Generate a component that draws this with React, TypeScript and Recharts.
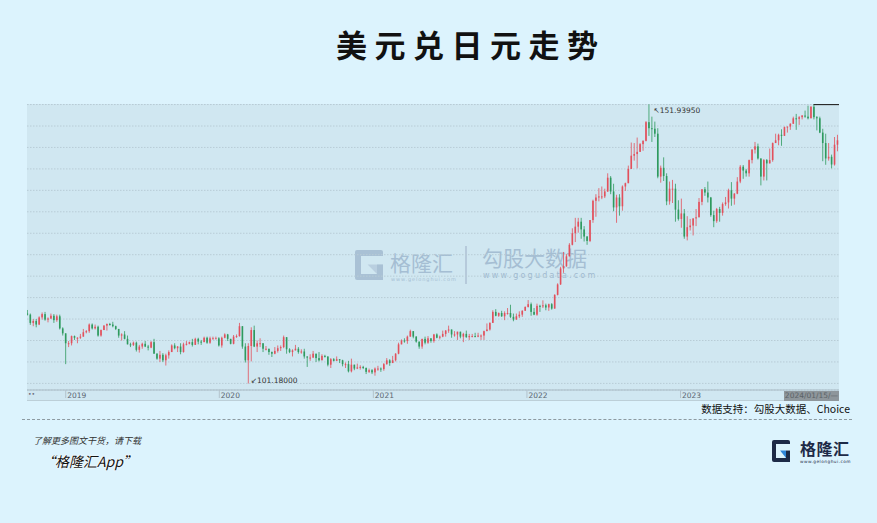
import React from 'react';
import { ComposedChart, Bar, XAxis, YAxis, CartesianGrid, ReferenceDot, ReferenceLine } from 'recharts';

// USD/JPY weekly candles, each week = [high, low, close]; open = previous week's close
const firstOpen = 113.9;
const firstWeekMid = Date.UTC(2018, 9, 3); // week of 2018-10-01

const w2018: number[][] = [
  [114.55, 113.55, 113.7], [113.9, 111.85, 112.2], [112.9, 111.6, 112.55], [112.9, 111.4, 111.9], [113.4, 111.8, 113.2],
  [114.1, 112.8, 113.8], [114.2, 112.6, 112.8], [113.2, 112.3, 113.0], [113.9, 112.9, 113.5], [113.8, 112.2, 112.7],
  [113.7, 112.4, 113.4], [113.7, 111.0, 111.2], [111.4, 109.9, 110.3], [110.0, 104.7, 108.5],
];
const w2019: number[][] = [
  [108.9, 107.8, 108.5], [109.9, 108.1, 109.8], [109.9, 109.1, 109.5], [109.6, 108.5, 109.5],
  [110.2, 109.3, 109.7], [111.1, 109.9, 110.5], [110.9, 110.3, 110.7], [112.1, 110.4, 111.9],
  [112.1, 111.0, 111.2], [111.9, 111.0, 111.5], [111.7, 109.7, 109.9], [111.0, 109.7, 110.9],
  [111.8, 110.9, 111.7], [112.1, 110.8, 112.0], [112.2, 111.7, 111.9], [112.4, 111.4, 111.6], [111.7, 110.9, 111.1],
  [111.1, 109.5, 109.9], [110.3, 109.0, 110.1], [110.7, 109.2, 109.3], [109.9, 108.3, 108.3],
  [108.6, 107.8, 108.2], [108.8, 108.0, 108.6], [108.8, 107.0, 107.3], [108.2, 106.8, 107.9],
  [108.6, 107.5, 108.4], [108.9, 107.8, 107.9], [108.2, 107.2, 107.7], [108.9, 107.6, 108.7], [109.3, 106.6, 106.6],
  [106.7, 105.5, 105.7], [107.1, 105.1, 106.4], [106.7, 105.1, 105.4], [106.6, 104.45, 106.3],
  [107.2, 105.7, 106.9], [108.3, 106.9, 108.1], [108.5, 107.4, 107.6], [108.0, 106.9, 107.9], [108.5, 106.5, 106.9],
  [108.6, 106.8, 108.3], [108.9, 108.1, 108.4], [108.8, 108.3, 108.7], [109.3, 107.9, 108.2],
  [109.5, 108.2, 109.3], [109.5, 108.3, 108.8], [109.1, 108.2, 108.7], [109.7, 108.8, 109.5],
  [109.7, 108.4, 108.6], [109.7, 108.4, 109.4], [109.7, 109.2, 109.4], [109.7, 109.3, 109.4], [109.6, 107.9, 108.1],
];
const w2020: number[][] = [
  [109.7, 107.7, 109.5], [110.3, 109.4, 110.1], [110.2, 108.9, 109.3], [109.3, 108.3, 108.4],
  [110.0, 108.3, 109.7], [110.1, 109.5, 109.8], [112.2, 109.7, 111.6], [111.6, 107.5, 107.9],
  [108.5, 105.0, 105.4], [108.5, 101.18, 108.0], [111.4, 105.2, 110.9], [111.7, 107.8, 107.9], [109.0, 106.9, 108.5],
  [109.4, 107.8, 108.5], [108.1, 106.9, 107.5], [108.0, 107.2, 107.5], [107.5, 106.4, 106.9],
  [107.0, 106.0, 106.6], [107.8, 106.5, 107.1], [108.1, 106.8, 107.6], [108.1, 107.1, 107.8],
  [109.9, 107.6, 109.6], [109.6, 106.6, 107.4], [107.6, 106.7, 106.9], [107.4, 106.1, 107.2], [108.2, 107.2, 107.5],
  [107.8, 106.6, 106.9], [107.4, 106.6, 107.0], [107.5, 105.7, 106.1], [106.1, 104.2, 105.9],
  [106.5, 105.3, 105.9], [107.1, 105.8, 106.6], [106.0, 105.1, 105.8], [106.9, 105.2, 105.4], [106.5, 105.6, 106.2],
  [106.4, 105.9, 106.1], [106.0, 104.3, 104.6], [105.8, 104.0, 105.6], [105.8, 105.2, 105.3],
  [106.1, 105.3, 105.6], [105.6, 104.9, 105.4], [105.5, 104.3, 104.7], [105.0, 104.0, 104.7],
  [105.3, 103.2, 103.4], [105.7, 103.2, 104.6], [104.6, 103.6, 103.9], [104.8, 103.8, 104.1], [104.5, 103.7, 104.2],
  [104.4, 103.8, 104.0], [104.1, 102.9, 103.3], [103.9, 103.1, 103.6], [103.8, 102.9, 103.2],
];
const w2021: number[][] = [
  [104.1, 102.6, 103.9], [104.4, 103.5, 103.9], [104.1, 103.3, 103.8], [104.9, 103.5, 104.7],
  [105.8, 104.6, 105.4], [105.6, 104.4, 104.9], [106.2, 104.9, 105.4], [106.7, 105.2, 106.6],
  [108.6, 106.5, 108.3], [109.2, 108.3, 109.0], [109.4, 108.6, 108.9], [109.9, 108.4, 109.7], [110.97, 109.7, 110.7],
  [110.5, 109.4, 109.7], [109.8, 108.6, 108.8], [108.8, 107.5, 107.9], [109.3, 107.5, 109.3],
  [109.7, 108.3, 108.6], [109.8, 108.4, 109.4], [109.4, 108.6, 108.9], [110.2, 108.6, 110.1], [110.3, 109.4, 109.5],
  [109.9, 109.2, 109.7], [110.8, 109.6, 110.2], [110.9, 109.7, 110.8], [111.7, 110.4, 111.0],
  [111.0, 109.5, 110.1], [110.7, 109.7, 110.1], [110.6, 109.1, 110.6], [110.6, 109.4, 109.7],
  [110.4, 108.7, 110.2], [110.8, 109.5, 109.6], [110.2, 109.1, 109.8], [110.2, 109.6, 109.8], [110.4, 109.6, 109.7],
  [110.4, 109.6, 109.9], [110.1, 109.1, 109.9], [110.8, 109.1, 110.7], [112.1, 110.8, 111.0],
  [112.3, 110.8, 112.2], [114.5, 112.2, 114.2], [114.7, 113.4, 113.5], [114.1, 113.3, 114.0],
  [114.4, 113.3, 113.4], [114.3, 112.7, 114.0], [114.9, 113.7, 114.0], [115.5, 113.1, 113.3], [113.9, 112.5, 112.8],
  [113.9, 113.0, 113.4], [114.3, 113.1, 113.7], [114.5, 113.3, 114.4], [115.2, 114.5, 115.1],
];
const w2022: number[][] = [
  [116.35, 115.0, 115.6], [115.9, 113.5, 114.2], [114.9, 113.6, 113.7], [115.7, 113.5, 115.3], [115.5, 114.2, 115.2],
  [116.3, 114.9, 115.4], [115.7, 114.5, 115.0], [115.7, 114.4, 115.6], [115.8, 114.6, 114.8],
  [117.4, 114.8, 117.3], [119.4, 117.2, 119.2], [122.4, 119.1, 122.1], [125.1, 121.3, 122.5],
  [124.7, 122.4, 124.3], [126.7, 124.3, 126.4], [129.4, 126.3, 128.5], [131.3, 126.9, 129.7],
  [131.3, 128.6, 130.6], [131.3, 127.5, 129.2], [129.8, 127.0, 127.9], [128.0, 126.4, 127.1], [130.9, 126.9, 130.9],
  [134.6, 130.4, 134.4], [135.6, 131.5, 135.0], [136.7, 134.3, 135.2], [137.0, 134.7, 135.2],
  [136.6, 134.9, 136.1], [139.4, 136.0, 138.6], [138.9, 135.6, 136.1], [137.5, 132.5, 133.2],
  [135.5, 130.4, 135.0], [135.6, 131.7, 133.4], [137.2, 132.6, 137.0], [137.7, 136.2, 137.6], [140.8, 137.7, 140.2],
  [144.99, 140.2, 142.6], [144.9, 141.7, 142.9], [145.9, 140.3, 143.3], [144.9, 143.5, 144.7],
  [145.4, 143.5, 145.3], [148.9, 145.2, 148.7], [151.9395, 146.2, 147.6], [149.7, 145.1, 147.5], [148.8, 146.0, 146.6],
  [147.6, 138.5, 138.8], [140.8, 137.7, 140.4], [142.3, 138.0, 138.9], [139.4, 133.6, 134.3],
  [137.9, 133.7, 136.6], [138.2, 134.0, 136.6], [137.5, 130.6, 132.8], [134.5, 130.8, 131.1],
];
const w2023: number[][] = [
  [134.8, 129.5, 132.1], [132.9, 127.5, 127.9], [131.6, 127.2, 129.6], [131.1, 129.0, 129.9], [131.2, 128.1, 131.2],
  [132.9, 129.8, 131.4], [134.9, 131.5, 134.2], [136.5, 133.6, 136.5], [136.9, 135.3, 135.9],
  [137.9, 134.1, 135.0], [135.1, 131.5, 131.8], [132.6, 129.6, 130.7], [133.1, 130.4, 132.9],
  [133.3, 130.6, 132.2], [134.1, 131.7, 133.8], [135.1, 133.5, 134.1], [136.6, 133.0, 136.3],
  [137.8, 133.5, 134.8], [135.8, 133.7, 135.7], [138.7, 135.6, 137.9], [140.9, 137.6, 140.6], [140.9, 138.4, 139.9],
  [140.2, 138.8, 139.4], [141.9, 138.8, 141.8], [143.8, 141.2, 143.7], [145.1, 143.0, 144.3],
  [144.8, 141.9, 142.1], [142.1, 137.2, 138.8], [142.0, 138.1, 141.8], [142.0, 138.1, 141.2], [143.9, 141.5, 141.8],
  [145.0, 141.5, 144.9], [146.6, 144.9, 145.4], [146.6, 144.5, 146.4], [147.4, 144.4, 146.2],
  [147.9, 146.3, 147.8], [147.9, 146.8, 147.9], [148.5, 147.3, 148.4], [149.7, 148.5, 149.4],
  [150.2, 147.3, 149.3], [149.8, 148.2, 149.6], [150.0, 149.2, 149.9], [150.8, 149.5, 149.7], [151.7, 149.2, 149.4],
  [151.6, 149.8, 151.5], [151.91, 149.2, 149.6], [149.8, 147.2, 149.4], [149.7, 146.7, 146.8],
  [147.5, 141.6, 144.9], [146.6, 140.95, 142.1], [144.9, 141.7, 142.4], [142.8, 140.3, 141.0],
];
const w2024: number[][] = [
  [146.0, 140.8, 144.6], [146.4, 143.4, 145.4],
];

const yearTicks = [2019, 2020, 2021, 2022, 2023];
const gridValues = [101.2, 105.1, 109.0, 112.9, 116.8, 120.7, 124.6, 128.5, 132.4, 136.3, 140.2, 144.1, 148.0, 151.9];
const highLabel = { date: Date.UTC(2022, 9, 19), value: 151.9395, text: '↖151.93950' };
const lowLabel = { date: Date.UTC(2020, 2, 11), value: 101.18, text: '↙101.18000' };
const recentHigh = { from: Date.UTC(2023, 10, 13), to: Date.UTC(2024, 0, 12, 12), value: 151.91 };
const xDomain = [Date.UTC(2018, 9, 1), Date.UTC(2024, 0, 12, 12)];

const DAY = 86400000;
const RED = '#e2505c';
const GREEN = '#2e9a5e';
const PAGE_BG = '#dcf3fd';
const PANEL_BG = '#d0e7f1';
const CJK = "'Noto Sans CJK SC', 'Noto Sans', sans-serif";

const allWeeks = [...w2018, ...w2019, ...w2020, ...w2021, ...w2022, ...w2023, ...w2024];
const data: any[] = [];
{
  let prev = firstOpen;
  allWeeks.forEach(([h, l, c], i) => {
    const open = prev;
    const high = Math.max(h, open, c);
    const low = Math.min(l, open, c);
    data.push({ t: firstWeekMid + i * 7 * DAY, open, high, low, close: c, range: [low, high] });
    prev = c;
  });
}

const Candle = (props: any) => {
  const { x, y, width, height } = props;
  const p = props.payload || props;
  const { open, close, high, low } = p;
  if (high === undefined || isNaN(x) || isNaN(y)) return null;
  const top = height < 0 ? y + height : y;
  const h = Math.abs(height);
  const cx = x + width / 2;
  const ppu = h / Math.max(high - low, 1e-6);
  const bTop = top + (high - Math.max(open, close)) * ppu;
  const bH = Math.max(1, Math.abs(open - close) * ppu);
  const color = close >= open ? RED : GREEN;
  return (
    <g>
      <line x1={cx} x2={cx} y1={top} y2={top + h} stroke={color} strokeWidth={0.8} />
      <rect x={cx - 0.8} y={bTop} width={1.6} height={bH} fill={color} />
    </g>
  );
};

const YearTick = (props: any) => {
  const { x, y, payload } = props;
  return (
    <g>
      <line x1={x} x2={x} y1={y} y2={y + 8} stroke="#b3c3cc" strokeWidth={1} />
      <text x={x + 1.5} y={y + 7.6} fontSize={7.5} fill="#5a6570" fontFamily="'DejaVu Sans', sans-serif">
        {new Date(payload.value).getUTCFullYear()}
      </text>
    </g>
  );
};

const GIcon = ({ w, h, dark, light, bg }: { w: number; h: number; dark: string; light: string; bg: string }) => {
  const t = Math.round(w * 0.22);
  return (
    <svg width={w} height={h} style={{ display: 'block' }}>
      <rect x={0} y={0} width={w} height={h} rx={2} fill={dark} />
      <rect x={t} y={t} width={w - t} height={h - 2 * t} fill={bg} />
      <rect x={w - t} y={h * 0.48} width={t} height={h * 0.52} fill={dark} />
      <polygon points={`${w * 0.45},${h * 0.48} ${w - t},${h * 0.48} ${w - t},${h - t}`} fill={light} />
    </svg>
  );
};

export default function App() {
  return (
    <div style={{ position: 'absolute', left: 0, top: 0, width: 877, height: 523, background: PAGE_BG, overflow: 'hidden', fontFamily: CJK }}>
      {/* title */}
      <div style={{ position: 'absolute', left: 467, top: 28, transform: 'translateX(-50%)', fontSize: 31, lineHeight: '31px', fontWeight: 700, letterSpacing: 7.5, color: '#111', whiteSpace: 'nowrap', paddingLeft: 7.5 }}>
        美元兑日元走势
      </div>

      {/* panel */}
      <div style={{ position: 'absolute', left: 27, top: 104, width: 812, height: 297, background: PANEL_BG }} />
      <div style={{ position: 'absolute', left: 27, top: 400, width: 812, height: 1, background: '#bccfd8' }} />

      {/* watermark */}
      <div style={{ position: 'absolute', left: 355, top: 250 }}>
        <GIcon w={28} h={30} dark="#a9c1d5" light="#b9cfe0" bg={PANEL_BG} />
      </div>
      <div style={{ position: 'absolute', left: 390, top: 252, fontSize: 21, lineHeight: '21px', height: 21, color: '#a5bed3', whiteSpace: 'nowrap' }}>格隆汇</div>
      <div style={{ position: 'absolute', left: 391, top: 277, fontSize: 5, lineHeight: '5px', letterSpacing: 0.9, color: '#a5bed3', whiteSpace: 'nowrap', fontFamily: "'DejaVu Sans', sans-serif" }}>www.gelonghui.com</div>
      <div style={{ position: 'absolute', left: 465, top: 246, width: 1.5, height: 38, background: '#b6cadb' }} />
      <div style={{ position: 'absolute', left: 482, top: 247, fontSize: 21, lineHeight: '21px', color: '#a5bed3', whiteSpace: 'nowrap' }}>勾股大数据</div>
      <div style={{ position: 'absolute', left: 483, top: 272, fontSize: 8, lineHeight: '8px', letterSpacing: 2.2, color: '#9fb9cf', whiteSpace: 'nowrap', fontFamily: "'DejaVu Sans', sans-serif" }}>www.gogudata.com</div>

      {/* chart */}
      <div style={{ position: 'absolute', left: 27, top: 104 }}>
        <ComposedChart width={812} height={297} data={data} margin={{ top: 0, right: 0, bottom: 0, left: 0 }}>
          <CartesianGrid vertical={false} stroke="#b8ccd6" strokeDasharray="1.5 1.5" />
          <XAxis
            dataKey="t"
            type="number"
            domain={xDomain}
            allowDataOverflow
            ticks={yearTicks.map((y) => Date.UTC(y, 0, 1))}
            height={11}
            tickSize={0}
            tickMargin={0}
            tickLine={false}
            axisLine={{ stroke: '#a9bcc6', strokeWidth: 1.2 }}
            tick={<YearTick />}
            interval={0}
          />
          <YAxis hide domain={[100, 152]} ticks={gridValues} interval={0} allowDataOverflow />
          <Bar dataKey="range" barSize={2} shape={<Candle />} isAnimationActive={false} />
          <ReferenceLine
            segment={[{ x: recentHigh.from, y: recentHigh.value }, { x: recentHigh.to, y: recentHigh.value }]}
            stroke="#2a2a2a"
            strokeWidth={1.3}
            ifOverflow="visible"
          />
          <ReferenceDot
            x={highLabel.date}
            y={highLabel.value}
            r={0}
            ifOverflow="visible"
            shape={(p: any) => (
              <text x={p.cx + 4} y={p.cy + 9} fontSize={7.5} fill="#333" fontFamily="'DejaVu Sans', sans-serif">{highLabel.text}</text>
            )}
          />
          <ReferenceDot
            x={lowLabel.date}
            y={lowLabel.value}
            r={0}
            ifOverflow="visible"
            shape={(p: any) => (
              <text x={p.cx + 2} y={p.cy - 0.5} fontSize={7.5} fill="#333" fontFamily="'DejaVu Sans', sans-serif">{lowLabel.text}</text>
            )}
          />
        </ComposedChart>
      </div>

      {/* axis extras */}
      <div style={{ position: 'absolute', left: 28, top: 391, fontSize: 6, lineHeight: '6px', color: '#667', fontFamily: "'DejaVu Sans', sans-serif" }}>••</div>
      <div style={{ position: 'absolute', left: 784, top: 391, width: 55, height: 9.5, background: '#8e969b', color: '#5b6267', fontSize: 7.5, lineHeight: '9.5px', textAlign: 'center', fontFamily: "'DejaVu Sans', sans-serif", whiteSpace: 'nowrap' }}>
        2024/01/15/—
      </div>

      {/* source */}
      <div style={{ position: 'absolute', right: 27, top: 403, fontSize: 10.5, lineHeight: '12px', color: '#111', whiteSpace: 'nowrap' }}>
        数据支持：勾股大数据、Choice
      </div>
      <div style={{ position: 'absolute', left: 22, top: 419, width: 830, height: 0, borderTop: '1px dashed #8d9aa1' }} />

      {/* footer */}
      <div style={{ position: 'absolute', left: 33, top: 436, fontSize: 9, lineHeight: '10px', fontStyle: 'italic', color: '#333', whiteSpace: 'nowrap' }}>
        了解更多图文干货，请下载
      </div>
      <div style={{ position: 'absolute', left: 41, top: 453, fontSize: 14, lineHeight: '16px', fontStyle: 'italic', color: '#111', whiteSpace: 'nowrap', textShadow: '0 0 2px #fff, 0 0 2px #fff, 0 0 1px #fff' }}>
        “格隆汇App”
      </div>

      {/* logo */}
      <div style={{ position: 'absolute', left: 772, top: 440 }}>
        <GIcon w={18} h={22} dark="#1d2a47" light="#2f86d9" bg={PAGE_BG} />
      </div>
      <div style={{ position: 'absolute', left: 800, top: 440, fontSize: 16, lineHeight: '16px', height: 16, fontWeight: 700, color: '#1d2a47', whiteSpace: 'nowrap', letterSpacing: 0.5 }}>格隆汇</div>
      <div style={{ position: 'absolute', left: 800, top: 459, fontSize: 4.3, lineHeight: '5px', color: '#1d2a47', whiteSpace: 'nowrap', letterSpacing: 0.45, fontFamily: "'DejaVu Sans', sans-serif" }}>www.gelonghui.com</div>
    </div>
  );
}
